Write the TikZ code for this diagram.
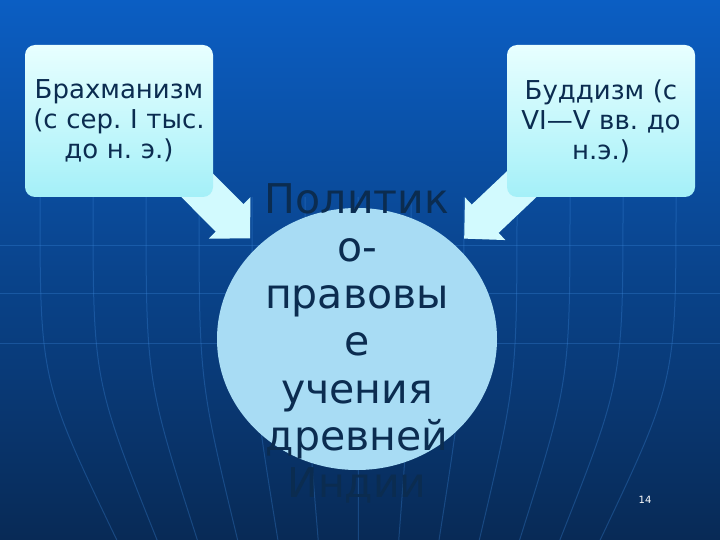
\documentclass[tikz,border=0pt]{standalone}
\usepackage{fontspec}
\setmainfont{DejaVu Sans}
\usetikzlibrary{arrows.meta,shapes.geometric}
\definecolor{bgtop}{HTML}{0B5EC3}
\definecolor{bgmid}{HTML}{0850A0}
\definecolor{bgbot}{HTML}{082A56}
\definecolor{gridcol}{HTML}{3E8CE0}
\definecolor{boxtop}{HTML}{E8FFFF}
\definecolor{boxbot}{HTML}{A4F0F8}
\definecolor{arrowcol}{HTML}{D2FAFE}
\definecolor{corefill}{HTML}{A8DCF4}
\definecolor{ink}{HTML}{0B2C50}
\pgfdeclarelayer{back}
\pgfdeclarelayer{under}
\pgfsetlayers{back,under,main}
\frenchspacing

\begin{document}
\begin{tikzpicture}[x=1pt,y=1pt]
    \tikzstyle{every node}+=[inner sep=0pt]
    \tikzstyle{gridline}=[draw=gridcol, line width=1pt, opacity=0.3]
    \tikzstyle{sourcebox}=[rectangle, rounded corners=10pt, minimum width=188pt, minimum height=152pt, text width=184pt, align=center, top color=boxtop, bottom color=boxbot, text=ink, font=\fontsize{26}{30}\selectfont]
    \tikzstyle{bigarrow}=[line width=39pt, draw=arrowcol, -{Triangle[length=29pt,width=57pt]}, shorten >=11pt]
    \useasboundingbox (0,0) rectangle (720,-540);
    % background with globe lines
    \begin{pgfonlayer}{back}
    \shade [top color=bgtop, middle color=bgmid, bottom color=bgbot] (0,0) rectangle (720,-540);
    \foreach \y in {245,293,343}
        \draw [gridline] (0,-\y) -- (720,-\y);
    \foreach \x in {40,93,...,680} {
        \pgfmathsetmacro{\xend}{\x+0.24*(360-\x)}
        \draw [gridline] (\x,-197) .. controls (\x,-380) .. (\xend,-540);
    }
    \end{pgfonlayer}
    % sources and core
    \node [sourcebox] (brahm) at (119,-121) {Брахманизм\\(с сер. I тыс.\\до н. э.)};
    \node [sourcebox] (budd) at (601,-121) {Буддизм (с\\VI—V вв. до\\н.э.)};
    \node [ellipse, fill=corefill, minimum width=280pt, minimum height=262pt] (core) at (357,-339) {};
    \node [anchor=north, yshift=24pt, text=ink, text width=320pt, align=center, font=\fontsize{41}{47.3}\selectfont] (coretext) at (core.north) {Политик\\о-\\правовы\\е\\учения\\древней\\Индии};
    \node [text=white, font=\fontsize{10}{12}\selectfont] (pagenum) at (645,-500) {14};
    % arrows under the boxes
    \begin{pgfonlayer}{under}
    \draw [bigarrow] ([shift={(-55,51)}]brahm.south east) -- (core.north west);
    \draw [bigarrow] ([shift={(55,51)}]budd.south west) -- (core.north east);
    \end{pgfonlayer}
\end{tikzpicture}
\end{document}
